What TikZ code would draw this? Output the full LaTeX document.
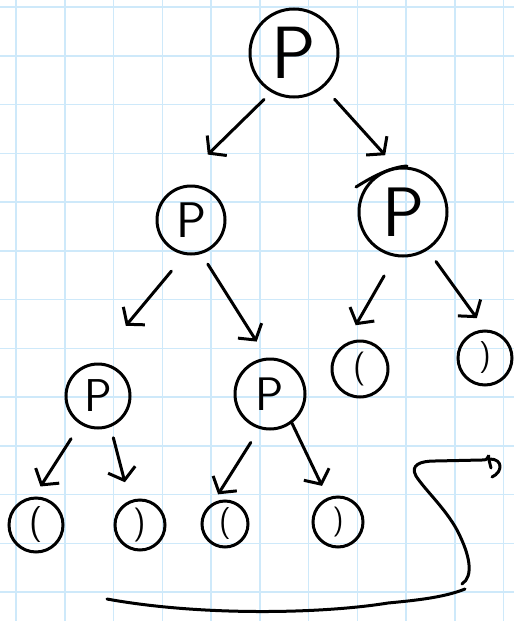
\documentclass[tikz,border=0pt]{standalone}
\usetikzlibrary{arrows.meta}
\definecolor{gridblue}{RGB}{206,233,250}

\begin{document}
\begin{tikzpicture}[x=1pt,y=-1pt,
    pnode/.style={circle, draw, line width=3pt, inner sep=0pt, font=\sffamily},
    arr/.style={-{Straight Barb[length=11pt,width=28pt]}, line width=3pt, line cap=round, line join=round},
    pen/.style={line width=3pt, line cap=round, line join=round}]
    % Paper with the grid
    \useasboundingbox (0,0) rectangle (514,621);
    \fill[white] (0,0) rectangle (514,621);
    \foreach \k in {0,...,10}
        \draw[gridblue, line width=1.5pt] (16+48.75*\k,0) -- ++(0,621);
    \foreach \k in {0,...,12}
        \draw[gridblue, line width=1.5pt] (0,7+48.75*\k) -- ++(514,0);

    % Inner nodes
    \node[pnode, minimum size=88pt, font=\sffamily\fontsize{74}{74}\selectfont] (root) at (294,53) {P};
    \node[pnode, minimum size=68pt, font=\sffamily\fontsize{50}{50}\selectfont] (lp) at (191,220) {P};
    \node[pnode, minimum size=88pt, font=\sffamily\fontsize{70}{70}\selectfont] (rP) at (403,212) {P};
    \node[pnode, minimum size=64pt, font=\sffamily\fontsize{46}{46}\selectfont] (l3a) at (98,396) {P};
    \node[pnode, minimum size=70pt, font=\sffamily\fontsize{47}{47}\selectfont] (l3b) at (270,394) {P};

    % Leaves
    \node[pnode, minimum size=56pt, font=\sffamily\fontsize{34}{34}\selectfont] (rc) at (360,369) {(};
    \node[pnode, minimum size=54pt, font=\sffamily\fontsize{32}{32}\selectfont] (rr) at (485,358) {)};
    \node[pnode, minimum size=54pt, font=\sffamily\fontsize{36}{36}\selectfont] (b1) at (36,525) {(};
    \node[pnode, minimum size=50pt, font=\sffamily\fontsize{34}{34}\selectfont] (b2) at (140,525) {)};
    \node[pnode, minimum size=46pt, font=\sffamily\fontsize{32}{32}\selectfont] (b3) at (225,524) {(};
    \node[pnode, minimum size=50pt, font=\sffamily\fontsize{30}{30}\selectfont] (b4) at (338,522) {)};

    % Extra pen stroke on top of the right P
    \draw[pen] (356,187) .. controls (375,175) and (392,167) .. (407,166);

    % Arrows
    \draw[arr, shorten <=10pt, shorten >=52pt] (root.240) -- (lp.125);
    \draw[arr, shorten <=16pt, shorten >=16pt] (root.311) -- (rP.99);
    \draw[arr, shorten <=21pt, shorten >=48pt] (lp.260) -- (l3a.95);
    \draw[arr, shorten <=12pt, shorten >=19pt] (lp.287) -- (l3b.95);
    \draw[arr, shorten <=22pt, shorten >=21pt] (rP.260) -- (rc.120);
    \draw[arr, shorten <=14pt, shorten >=14pt] (rP.303) -- (rr.90);
    \draw[arr, shorten <=17pt, shorten >=12pt] (l3a.238) -- (b1.94);
    \draw[arr, shorten <=11pt, shorten >=19pt] (l3a.292) -- (b2.113);
    \draw[arr, shorten <=16pt, shorten >=10pt] (l3b.253) -- (b3.120);
    \draw[arr, shorten >=13pt] (l3b.307) -- (b4.113);

    % Squiggle at the bottom
    \draw[pen] (107,599) .. controls (200,616) and (320,614) .. (388,603)
        .. controls (420,600) and (445,597) .. (465,589);
    \draw[pen] (462,584) .. controls (474,576) and (470,555) .. (457,530)
        .. controls (445,508) and (425,490) .. (416,476)
        .. controls (410,465) and (420,461) .. (435,461) -- (482,460)
        .. controls (486,460) .. (489,456);
    \draw[pen] (488,456) -- (491,468);
    \draw[pen] (490,459) .. controls (503,459) and (503,472) .. (492,477);
\end{tikzpicture}
\end{document}
